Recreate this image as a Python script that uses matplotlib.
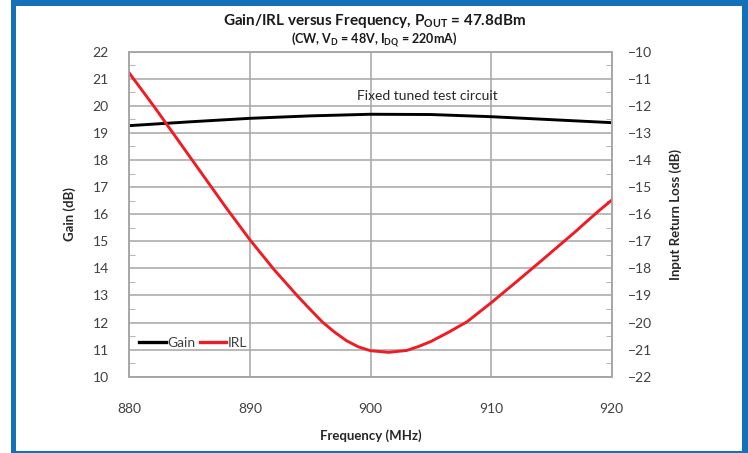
import matplotlib
matplotlib.use("Agg")
import matplotlib.pyplot as plt
from matplotlib.patches import Rectangle
from matplotlib.lines import Line2D
from matplotlib.ticker import MultipleLocator

plt.rcParams['font.family'] = ['Lato', 'DejaVu Sans']
plt.rcParams['mathtext.fontset'] = 'custom'
plt.rcParams['mathtext.rm'] = 'Lato'
plt.rcParams['mathtext.bf'] = 'Lato:bold'
plt.rcParams['mathtext.it'] = 'Lato:italic'

# valores
freq_gain = [880, 885, 890, 895, 900, 905, 910, 915, 920]
gain = [19.27, 19.41, 19.54, 19.63, 19.69, 19.68, 19.60, 19.49, 19.38]

freq_irl = [880, 882, 884, 886, 888, 890, 892, 894, 895, 896, 897, 898, 899, 900,
            901.5, 903, 904, 905, 906.5, 908, 910, 912, 914, 916, 917, 918, 919, 920]
irl = [-10.80, -12.00, -13.25, -14.50, -15.75, -16.95, -18.05, -19.05, -19.52, -19.98,
       -20.35, -20.67, -20.90, -21.04, -21.10, -21.03, -20.88, -20.70, -20.35, -19.97,
       -19.27, -18.53, -17.78, -17.02, -16.64, -16.24, -15.85, -15.48]

xticks = [880, 890, 900, 910, 920]
cinza = '#a6a6a6'
texto = '#404040'

fig = plt.figure(figsize=(7.48, 4.53), dpi=100)
ax = fig.add_axes([0.1731, 0.1684, 0.8178 - 0.1731, 0.8859 - 0.1684])
ax2 = ax.twinx()

ax.set_xlim(880, 920)
ax.set_ylim(10, 22)
ax2.set_ylim(-22, -10)
ax.set_xticks(xticks)
ax.yaxis.set_major_locator(MultipleLocator(1))
ax.yaxis.set_minor_locator(MultipleLocator(0.5))
ax2.yaxis.set_major_locator(MultipleLocator(1))
ax2.yaxis.set_minor_locator(MultipleLocator(0.5))

ax.grid(True, which='major', color=cinza, linewidth=1.1)
ax.set_axisbelow(True)
for a in (ax, ax2):
    for s in a.spines.values():
        s.set_color(cinza)
        s.set_linewidth(1.1)

ax.tick_params(axis='x', length=0, pad=19, labelsize=10, labelcolor=texto)
ax.tick_params(axis='y', which='major', length=0, pad=15, labelsize=10, labelcolor=texto)
ax.tick_params(axis='y', which='minor', direction='in', length=4, color=cinza)
ax2.tick_params(axis='y', which='major', length=0, pad=12, labelsize=10, labelcolor=texto)
ax2.tick_params(axis='y', which='minor', direction='in', length=4, color=cinza)

ax.plot(freq_gain, gain, color='black', linewidth=2.1)
ax2.plot(freq_irl, irl, color='#ee1c24', linewidth=2.1)

ax.set_xlabel('Frequency (MHz)', fontsize=9.5, fontweight='bold', color='#262626', labelpad=10)
ax.set_ylabel('Gain (dB)', fontsize=9.5, fontweight='bold', color='#262626', labelpad=12)
ax2.set_ylabel('Input Return Loss (dB)', fontsize=9.5, fontweight='bold', color='#262626', labelpad=12)

ax.text(904.75, 20.38, 'Fixed tuned test circuit', fontsize=10, color='#262626',
        ha='center', va='center')

handles = [Line2D([], [], color='black', linewidth=2.4),
           Line2D([], [], color='#ee1c24', linewidth=2.4)]
leg = ax.legend(handles, ['Gain', 'IRL'], ncol=2, frameon=False, loc='center left',
                bbox_to_anchor=(0.02, 0.103), fontsize=10, handlelength=1.9,
                handletextpad=0.1, columnspacing=0.35, borderaxespad=0, borderpad=0)
for t in leg.get_texts():
    t.set_color(texto)

fig.text(0.5, 1 - 21 / 453, r'Gain/IRL versus Frequency, $\mathbf{P_{OUT}}$ = 47.8dBm',
         fontsize=11, fontweight='bold', ha='center', va='center', color='#1a1a1a')
fig.text(0.5, 1 - 40 / 453, r'(CW, $\mathbf{V_{D}}$ = 48V, $\mathbf{I_{DQ}}$ = 220mA)',
         fontsize=9, fontweight='bold', ha='center', va='center', color='#1a1a1a')

# moldura azul
azul = '#1670b8'
W, H = 748.0, 453.0
for x0, y0, w, h in [(11, 0, 5, 453), (742, 0, 6, 453), (11, 447, 737, 6), (11, 0, 737, 2)]:
    fig.patches.append(Rectangle((x0 / W, y0 / H), w / W, h / H, transform=fig.transFigure,
                                 facecolor=azul, edgecolor='none', zorder=10))

fig.savefig('out.png', dpi=100)
